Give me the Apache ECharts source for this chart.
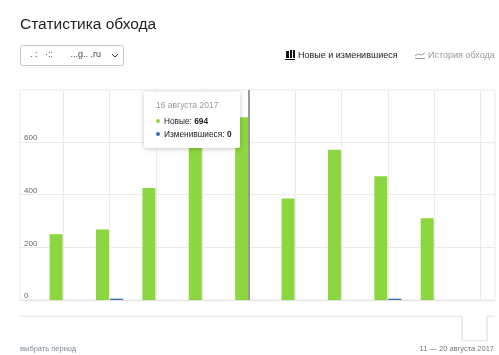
<!DOCTYPE html>
<html>
<head>
<meta charset="utf-8">
<script src="https://cdn.jsdelivr.net/npm/echarts@6/dist/echarts.min.js"></script>
<style>
html, body { margin: 0; padding: 0; background: #fff; }
#chart { width: 499px; height: 355px; }
</style>
</head>
<body>
<div id="chart"></div>
<script>
// days of August 2017
var days = [12, 13, 14, 15, 16, 17, 18, 19, 20];
var newPages = [250, 268, 425, 640, 694, 385, 570, 470, 310];
var changedPages = [0, 5, 0, 0, 0, 0, 0, 5, 0];
var dayLines = [12, 13, 14, 15, 16, 17, 18, 19, 20, 21];
var yTicks = [0, 200, 400, 600];

// strip with the period selector under the chart
var stripX = [0, 17.68, 17.68, 18.68, 18.68, 19];
var stripY = [1, 1, 0, 0, 1, 1];

var tooltipDay = 16;
var fontName = '"Liberation Sans", Arial, sans-serif';

function pairs(xs, ys) {
  return xs.map(function (x, i) { return [x, ys[i]]; });
}

function tooltipHtml(params) {
  var i = days.indexOf(tooltipDay);
  var dot = function (c) {
    return '<span style="display:inline-block;width:4px;height:4px;border-radius:50%;background:' + c + ';margin-right:4px;vertical-align:1px"></span>';
  };
  return '<div style="color:#999;font-size:8.5px;line-height:10px;margin-bottom:5px">16 августа 2017</div>' +
    '<div style="line-height:13px">' + dot('#8cd63f') + 'Новые: <b>' + newPages[i] + '</b></div>' +
    '<div style="line-height:13px">' + dot('#3a6fb5') + 'Изменившиеся: <b>' + changedPages[i] + '</b></div>';
}

var myChart = echarts.init(document.getElementById('chart'));
myChart.setOption({
  animation: false,
  textStyle: { fontFamily: fontName },
  title: {
    text: 'Статистика обхода',
    left: 20,
    top: 17,
    padding: 0,
    textStyle: { fontSize: 15.5, fontWeight: 'normal', color: '#222', fontFamily: fontName }
  },
  tooltip: {
    trigger: 'axis',
    alwaysShowContent: true,
    position: [144, 92],
    transitionDuration: 0,
    backgroundColor: '#fff',
    borderWidth: 0,
    borderRadius: 2,
    padding: [8, 6, 7, 12],
    extraCssText: 'width:78px;box-shadow:0 1px 5px rgba(0,0,0,.22);white-space:nowrap;',
    textStyle: { fontSize: 8.3, color: '#222', fontFamily: fontName },
    axisPointer: { type: 'line', lineStyle: { color: '#999', width: 2, type: 'solid' }, label: { show: false } },
    formatter: tooltipHtml
  },
  grid: [
    { left: 20, right: 4, top: 90, bottom: 55, show: true, borderColor: '#ebebeb', borderWidth: 1, backgroundColor: '#fff' },
    { left: 20, right: 4, top: 316, height: 25 }
  ],
  xAxis: [
    {
      type: 'value',
      gridIndex: 0,
      min: 11.07,
      max: 21.31,
      axisLine: { show: true, onZero: false, lineStyle: { color: '#e2e2e2', width: 1 } },
      axisTick: { show: false, customValues: dayLines },
      axisLabel: { show: false, customValues: dayLines },
      splitLine: { show: true, lineStyle: { color: '#ebebeb', width: 1 } }
    },
    {
      type: 'value',
      gridIndex: 1,
      min: 0,
      max: 19,
      axisLine: { show: false },
      axisTick: { show: false },
      axisLabel: { show: false },
      splitLine: { show: false }
    }
  ],
  yAxis: [
    {
      type: 'value',
      gridIndex: 0,
      min: 0,
      max: 797,
      axisLine: { show: false },
      axisTick: { show: false, customValues: yTicks },
      axisLabel: {
        inside: true,
        customValues: yTicks,
        color: '#666',
        fontSize: 8,
        margin: 4,
        verticalAlign: 'bottom',
        lineHeight: 8
      },
      splitLine: { show: true, lineStyle: { color: '#ebebeb', width: 1 } }
    },
    {
      type: 'value',
      gridIndex: 1,
      min: 0,
      max: 1,
      axisLine: { show: false },
      axisTick: { show: false },
      axisLabel: { show: false },
      splitLine: { show: false }
    }
  ],
  series: [
    {
      name: 'Новые',
      type: 'bar',
      xAxisIndex: 0,
      yAxisIndex: 0,
      barWidth: 13,
      barGap: '8%',
      itemStyle: { color: '#8cd63f' },
      emphasis: { disabled: true },
      data: pairs(days, newPages)
    },
    {
      name: 'Изменившиеся',
      type: 'bar',
      xAxisIndex: 0,
      yAxisIndex: 0,
      barWidth: 13,
      barGap: '8%',
      itemStyle: { color: '#3a6fb5' },
      emphasis: { disabled: true },
      data: pairs(days, changedPages)
    },
    {
      name: 'Период',
      type: 'line',
      xAxisIndex: 1,
      yAxisIndex: 1,
      symbol: 'none',
      silent: true,
      tooltip: { show: false },
      lineStyle: { color: '#d8d8d8', width: 1 },
      data: pairs(stripX, stripY)
    }
  ],
  graphic: [
    // site selector
    { type: 'rect', shape: { x: 20.5, y: 45.5, width: 103, height: 20, r: 2 }, style: { fill: '#fff', stroke: '#c9c9c9', lineWidth: 1 } },
    { type: 'text', style: { x: 30, y: 55, text: '. :   ·::       ...g.. .ru', fontSize: 9, fill: '#444', verticalAlign: 'middle', fontFamily: fontName } },
    { type: 'polyline', shape: { points: [[112, 54], [115, 57], [118, 54]] }, style: { fill: 'none', stroke: '#333', lineWidth: 1 } },
    // toggle on the right
    { type: 'rect', shape: { x: 286, y: 51, width: 3, height: 7 }, style: { fill: '#111' } },
    { type: 'rect', shape: { x: 290, y: 50, width: 2, height: 8 }, style: { fill: '#111' } },
    { type: 'rect', shape: { x: 293, y: 50, width: 2, height: 8 }, style: { fill: '#111' } },
    { type: 'rect', shape: { x: 285, y: 59, width: 10, height: 1 }, style: { fill: '#111' } },
    { type: 'text', style: { x: 298, y: 56, text: 'Новые и изменившиеся', fontSize: 9, fill: '#222', verticalAlign: 'middle', fontFamily: fontName } },
    { type: 'polyline', shape: { points: [[415, 56], [418, 54], [421, 55], [425, 53]] }, style: { fill: 'none', stroke: '#999', lineWidth: 1 } },
    { type: 'rect', shape: { x: 415, y: 58, width: 10, height: 1 }, style: { fill: '#999' } },
    { type: 'text', style: { x: 428, y: 56, text: 'История обхода', fontSize: 9, fill: '#999', verticalAlign: 'middle', fontFamily: fontName } },
    // footer
    { type: 'text', style: { x: 20, y: 349, text: 'выбрать период', fontSize: 7.5, fill: '#7a8a9a', verticalAlign: 'middle', fontFamily: fontName } },
    { type: 'text', style: { x: 494, y: 349, text: '11 — 20 августа 2017', fontSize: 7.5, fill: '#777', align: 'right', verticalAlign: 'middle', fontFamily: fontName } }
  ]
});

myChart.dispatchAction({ type: 'showTip', seriesIndex: 0, dataIndex: days.indexOf(tooltipDay) });
</script>
</body>
</html>
